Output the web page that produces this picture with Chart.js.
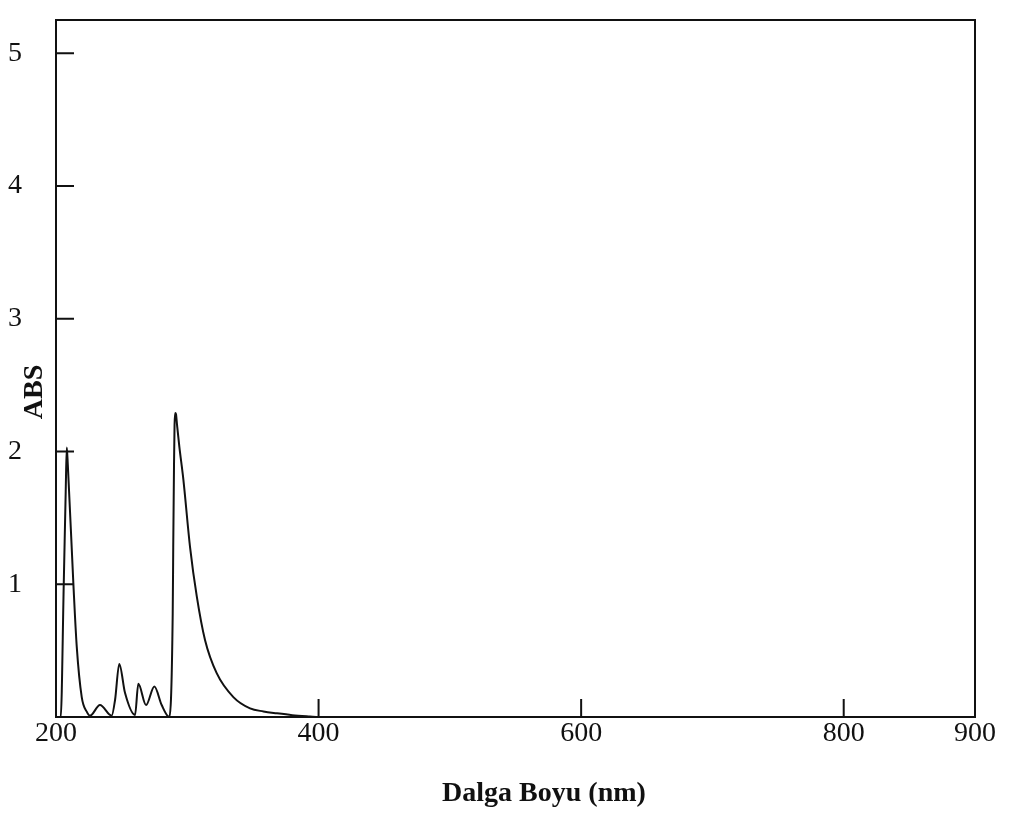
<!DOCTYPE html>
<html>
<head>
<meta charset="utf-8">
<script src="https://cdn.jsdelivr.net/npm/chart.js@4/dist/chart.umd.min.js"></script>
<style>
  html, body { margin: 0; padding: 0; background: #fff; }
  #wrap { width: 1016px; height: 813px; }
</style>
</head>
<body>
<div id="wrap"><canvas id="absChart" width="1016" height="813"></canvas></div>
<script>
// spectrum: wavelength (nm) and absorbance
const wavelengths = [200, 203.6, 205.9, 207.4, 208.2, 209.0, 213.2, 215.8, 219.6, 223.4, 225.9,
    233.5, 242.4, 245, 248.2, 252.6, 260.2, 262.7, 268.6, 274.9, 280.5, 286.3,
    288.9, 289.3, 289.9, 290.3, 290.8, 291.4, 292.2, 293.9, 297.0, 302.1, 307.2, 313.5, 322.4, 335.1,
    347.8, 358, 368.1, 380, 393.5, 400, 600, 800, 900];
const absValues = [0, 0, 1.0, 1.7, 2.03, 1.9, 1.01, 0.53, 0.15, 0.04, 0.01,
    0.09, 0.01, 0.13, 0.40, 0.18, 0.015, 0.25, 0.09, 0.23, 0.09, 0.0,
    0.78, 1.28, 1.91, 2.2, 2.29, 2.28, 2.2, 2.04, 1.79, 1.28, 0.91, 0.58, 0.33, 0.15,
    0.065, 0.042, 0.028, 0.014, 0.004, 0, 0, 0, 0];

const xTicks = [200, 400, 600, 800, 900];
const yTicks = [1, 2, 3, 4, 5];

const serif = '"Liberation Serif", "Times New Roman", serif';

// frame, inward tick marks and the two axis titles
const framePlugin = {
    id: 'framePlugin',
    afterDraw(chart) {
        const ctx = chart.ctx;
        const a = chart.chartArea;
        const xs = chart.scales.x;
        const ys = chart.scales.y;
        ctx.save();
        ctx.strokeStyle = '#111';
        ctx.lineWidth = 2;
        ctx.strokeRect(a.left, a.top, a.right - a.left, a.bottom - a.top);

        ctx.beginPath();
        yTicks.forEach(v => {
            const py = ys.getPixelForValue(v);
            ctx.moveTo(a.left, py);
            ctx.lineTo(a.left + 18, py);
        });
        xTicks.forEach(v => {
            if (v === xs.min || v === xs.max) return;
            const px = xs.getPixelForValue(v);
            ctx.moveTo(px, a.bottom);
            ctx.lineTo(px, a.bottom - 18);
        });
        ctx.stroke();

        ctx.fillStyle = '#111';
        ctx.font = 'bold 28px ' + serif;
        ctx.textAlign = 'center';
        ctx.textBaseline = 'middle';
        ctx.fillText('Dalga Boyu (nm)', 544, 794);

        ctx.translate(35, 392);
        ctx.rotate(-Math.PI / 2);
        ctx.fillText('ABS', 0, 0);
        ctx.restore();
    }
};

new Chart(document.getElementById('absChart'), {
    type: 'line',
    data: {
        datasets: [{
            data: wavelengths.map((w, i) => ({ x: w, y: absValues[i] })),
            borderColor: '#111',
            borderWidth: 2,
            pointRadius: 0,
            fill: false,
            cubicInterpolationMode: 'monotone'
        }]
    },
    options: {
        responsive: false,
        animation: false,
        layout: { padding: { left: 8, right: 41, top: 20, bottom: 0 } },
        plugins: {
            legend: { display: false },
            tooltip: { enabled: false }
        },
        scales: {
            x: {
                type: 'linear',
                min: 200,
                max: 900,
                afterBuildTicks: s => { s.ticks = xTicks.map(v => ({ value: v })); },
                afterFit: s => { s.height = 96; },
                grid: { display: false, drawTicks: false },
                border: { display: false },
                ticks: {
                    padding: 0,
                    color: '#111',
                    font: { family: serif, size: 28 },
                    maxRotation: 0,
                    autoSkip: false
                }
            },
            y: {
                min: 0,
                max: 5.25,
                afterBuildTicks: s => { s.ticks = yTicks.map(v => ({ value: v })); },
                afterFit: s => { s.width = 48; },
                grid: { display: false, drawTicks: false },
                border: { display: false },
                ticks: {
                    crossAlign: 'far',
                    color: '#111',
                    font: { family: serif, size: 28 }
                }
            }
        }
    },
    plugins: [framePlugin]
});
</script>
</body>
</html>
